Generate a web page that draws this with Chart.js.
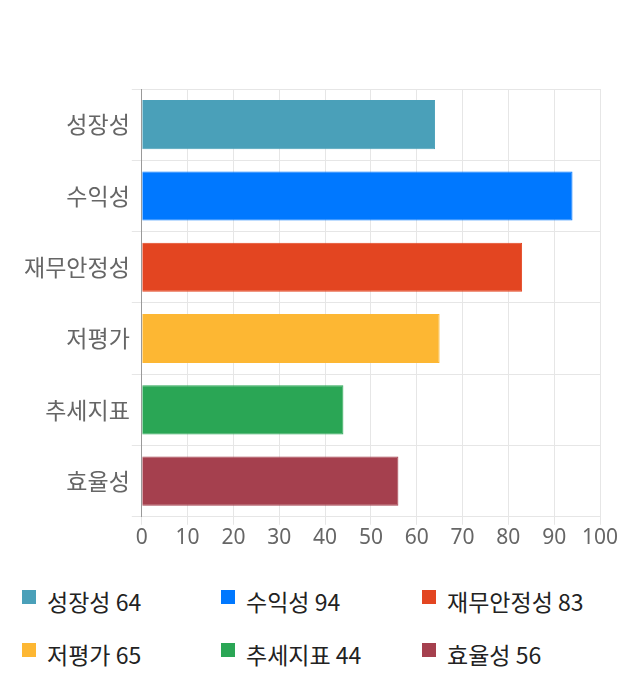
<!DOCTYPE html>
<html>
<head>
<meta charset="utf-8">
<script src="https://cdn.jsdelivr.net/npm/chart.js@4/dist/chart.umd.min.js"></script>
<style>
  body { margin: 0; background: #fff; font-family: "Noto Sans CJK KR", "Noto Sans", sans-serif; }
  .wrap { width: 640px; height: 700px; position: relative; }
  .chart-box { width: 640px; height: 560px; position: relative; }
  .legend { position: absolute; left: 22px; top: 586px; display: grid; grid-template-columns: 199px 201px 200px; row-gap: 25px; }
  .legend-item { display: flex; align-items: flex-start; height: 28px; font-size: 23px; color: #222; line-height: 30px; }
  .legend-box { width: 14px; height: 14px; margin-top: 4px; margin-right: 11px; flex: none; }
</style>
</head>
<body>
<div class="wrap">
  <div class="chart-box"><canvas id="scoreChart"></canvas></div>
  <div class="legend" id="legend"></div>
</div>
<script>
const categories = ['성장성', '수익성', '재무안정성', '저평가', '추세지표', '효율성'];
const scores = [64, 94, 83, 65, 44, 56];
const barColors = ['#4aa0b9', '#0078ff', '#e34521', '#fdb733', '#2aa655', '#a5404e'];
const xTicks = [0, 10, 20, 30, 40, 50, 60, 70, 80, 90, 100];

const scoreChart = new Chart(document.getElementById('scoreChart'), {
  type: 'bar',
  data: {
    labels: categories,
    datasets: [
      {
        data: scores,
        backgroundColor: barColors,
        borderColor: barColors,
        borderWidth: 1,
        barPercentage: 0.86,
        categoryPercentage: 0.8,
      },
    ],
  },
  options: {
    indexAxis: 'y',
    responsive: true,
    maintainAspectRatio: false,
    animation: false,
    layout: {
      padding: { top: 89, right: 40, bottom: 8, left: 22 },
    },
    plugins: {
      legend: { display: false },
      tooltip: { enabled: false },
    },
    scales: {
      x: {
        min: xTicks[0],
        max: xTicks[xTicks.length - 1],
        afterBuildTicks: (axis) => {
          axis.ticks = xTicks.map((v) => ({ value: v }));
        },
        grid: { color: '#e6e6e6', tickLength: 8 },
        border: { color: '#e6e6e6' },
        ticks: { color: '#666', font: { family: 'Noto Sans', size: 21 }, padding: 1 },
      },
      y: {
        grid: { color: '#e6e6e6', tickLength: 10, offset: true },
        border: { color: '#999' },
        ticks: { color: '#666', font: { family: 'Noto Sans CJK KR', size: 23 }, padding: 2 },
      },
    },
  },
});

const legend = document.getElementById('legend');
categories.forEach((name, i) => {
  const item = document.createElement('div');
  item.className = 'legend-item';
  item.innerHTML = '<span class="legend-box" style="background:' + barColors[i] + '"></span>' + name + ' ' + scores[i];
  legend.appendChild(item);
});
</script>
</body>
</html>
